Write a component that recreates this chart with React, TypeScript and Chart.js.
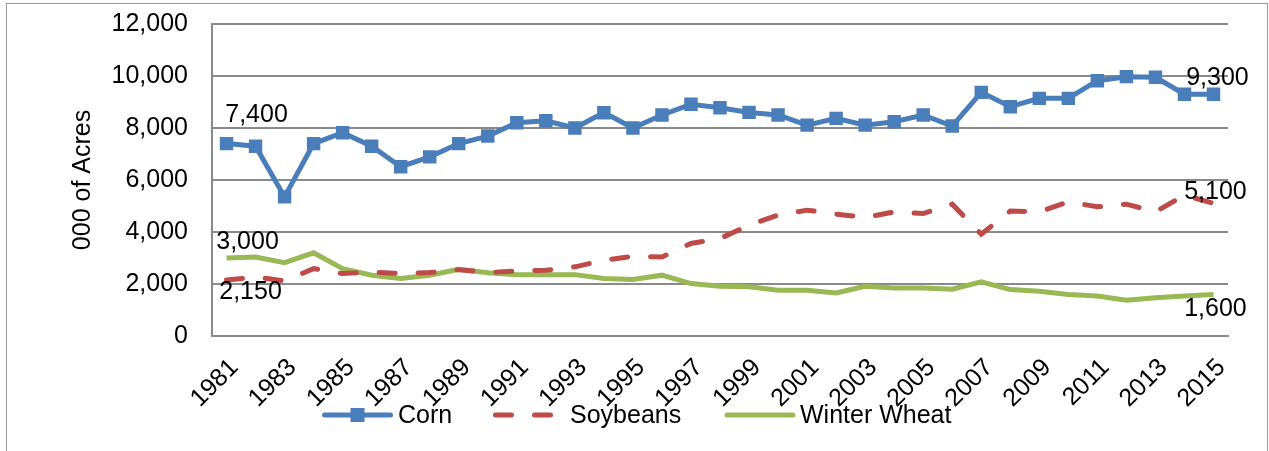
import React, { useEffect, useRef } from "react";
import { Chart, registerables } from "chart.js";

Chart.register(...registerables);

const years: string[] = [
  "1981", "1982", "1983", "1984", "1985", "1986", "1987", "1988", "1989", "1990",
  "1991", "1992", "1993", "1994", "1995", "1996", "1997", "1998", "1999", "2000",
  "2001", "2002", "2003", "2004", "2005", "2006", "2007", "2008", "2009", "2010",
  "2011", "2012", "2013", "2014", "2015",
];

const corn: number[] = [
  7400, 7300, 5350, 7400, 7820, 7300, 6510, 6890, 7400, 7690,
  8200, 8280, 8000, 8590, 8000, 8500, 8910, 8780, 8600, 8500,
  8110, 8370, 8110, 8240, 8500, 8075, 9370, 8820, 9140, 9140,
  9820, 9975, 9950, 9300, 9300,
];

const soybeans: number[] = [
  2150, 2270, 2120, 2590, 2400, 2460, 2400, 2440, 2550, 2440,
  2500, 2530, 2660, 2910, 3070, 3040, 3560, 3750, 4260, 4650,
  4840, 4690, 4560, 4775, 4710, 5070, 3915, 4810, 4775, 5160,
  4970, 5070, 4775, 5420, 5100,
];

const winterWheat: number[] = [
  3000, 3040, 2820, 3200, 2590, 2340, 2210, 2340, 2570, 2430,
  2360, 2360, 2360, 2210, 2170, 2340, 2015, 1910, 1890, 1760,
  1760, 1655, 1910, 1850, 1850, 1800, 2080, 1785, 1720, 1600,
  1540, 1375, 1475, 1540, 1600,
];

const yTicks: number[] = [0, 2000, 4000, 6000, 8000, 10000, 12000];

const seriesNames: string[] = ["Corn", "Soybeans", "Winter Wheat"];

const COLORS = ["#4A7EBB", "#BE4B48", "#98B954"];
const FONT = "'Liberation Sans', Arial, sans-serif";
const FS = 25;
const XFS = 25;

// data labels: [datasetIndex, pointIndex, dx, dy]
const dataLabels: [number, number, number, number][] = [
  [0, 0, 30, -28],
  [2, 0, 21, -16],
  [1, 0, 24, 12],
  [0, 34, 4, -16],
  [1, 34, 2, -11],
  [2, 34, 2, 15],
];

const fmt = (v: number) => v.toLocaleString("en-US");

const labelPlugin = {
  id: "dataLabelsCustom",
  afterDatasetsDraw(chart: any) {
    const ctx = chart.ctx;
    ctx.save();
    ctx.font = `${FS}px ${FONT}`;
    ctx.fillStyle = "#000";
    ctx.textAlign = "center";
    ctx.textBaseline = "middle";
    for (const [di, pi, dx, dy] of dataLabels) {
      const el = chart.getDatasetMeta(di).data[pi];
      const v = chart.data.datasets[di].data[pi] as number;
      ctx.fillText(fmt(v), el.x + dx, el.y + dy);
    }
    ctx.restore();
  },
};

// legend layout: [lineStart, lineEnd, textX]
const legendLayout: [number, number, number][] = [
  [324.5, 390.5, 398],
  [495.5, 555.5, 570],
  [727, 793, 800],
];

const legendPlugin = {
  id: "legendCustom",
  afterDraw(chart: any) {
    const ctx = chart.ctx;
    const y = 415;
    ctx.save();
    chart.data.datasets.forEach((ds: any, i: number) => {
      const [x0, x1, tx] = legendLayout[i];
      ctx.strokeStyle = ds.borderColor;
      ctx.lineWidth = ds.borderWidth;
      ctx.lineCap = "round";
      ctx.setLineDash(ds.borderDash || []);
      ctx.beginPath();
      ctx.moveTo(x0, y);
      ctx.lineTo(x1, y);
      ctx.stroke();
      ctx.setLineDash([]);
      if (ds.pointRadius > 0) {
        const s = 14;
        ctx.fillStyle = ds.borderColor;
        ctx.fillRect((x0 + x1) / 2 - s / 2, y - s / 2, s, s);
      }
      ctx.fillStyle = "#000";
      ctx.font = `${FS}px ${FONT}`;
      ctx.textAlign = "left";
      ctx.textBaseline = "middle";
      ctx.fillText(ds.label, tx, y + 1);
    });
    ctx.restore();
  },
};

export default function App() {
  const ref = useRef<HTMLCanvasElement | null>(null);

  useEffect(() => {
    if (!ref.current) return;
    Chart.defaults.font.family = FONT;
    const chart = new Chart(ref.current, {
      type: "line",
      data: {
        labels: years,
        datasets: [
          {
            label: seriesNames[0],
            data: corn,
            borderColor: COLORS[0],
            backgroundColor: COLORS[0],
            borderWidth: 5,
            pointStyle: "rect",
            pointRadius: 9.5,
            pointBorderWidth: 0,
            pointBackgroundColor: COLORS[0],
            pointBorderColor: COLORS[0],
            tension: 0,
          } as any,
          {
            label: seriesNames[1],
            data: soybeans,
            borderColor: COLORS[1],
            backgroundColor: COLORS[1],
            borderWidth: 5,
            borderDash: [16, 23],
            borderCapStyle: "round",
            pointRadius: 0,
            tension: 0,
          } as any,
          {
            label: seriesNames[2],
            data: winterWheat,
            borderColor: COLORS[2],
            backgroundColor: COLORS[2],
            borderWidth: 5,
            pointRadius: 0,
            tension: 0,
          } as any,
        ],
      },
      options: {
        animation: false,
        responsive: false,
        devicePixelRatio: 1,
        layout: { padding: { left: 0, top: 24, right: 41, bottom: 0 } },
        plugins: {
          legend: { display: false },
          tooltip: { enabled: false },
        },
        scales: {
          x: {
            offset: true,
            grid: { display: false, drawTicks: false },
            border: { display: true, color: "#8a8a8a", width: 2 },
            ticks: {
              autoSkip: false,
              maxRotation: 45,
              minRotation: 45,
              padding: 17,
              labelOffset: 8,
              color: "#000",
              font: { size: XFS, family: FONT },
              callback: (_v: any, i: number) => (i % 2 === 0 ? years[i] : ""),
            },
            afterFit: (s: any) => {
              s.height = 115;
            },
          },
          y: {
            min: 0,
            max: 12000,
            afterBuildTicks: (s: any) => {
              s.ticks = yTicks.map((v) => ({ value: v }));
            },
            grid: {
              color: "#8a8a8a",
              lineWidth: 2,
              drawTicks: true,
              tickLength: 22,
              tickColor: "rgba(0,0,0,0)",
            },
            border: { display: true, color: "#8a8a8a", width: 2 },
            ticks: {
              padding: 2,
              color: "#000",
              font: { size: FS, family: FONT },
              callback: (v: any) => fmt(Number(v)),
            },
            title: {
              display: true,
              text: "000 of Acres",
              color: "#000",
              font: { size: FS, family: FONT },
              padding: { top: 68, bottom: 0 },
            },
            afterFit: (s: any) => {
              s.width = 212;
            },
          },
        },
      },
      plugins: [labelPlugin, legendPlugin],
    });
    return () => chart.destroy();
  }, []);

  return (
    <div style={{ position: "fixed", left: 0, top: 0, width: 1269, height: 451, overflow: "hidden", background: "#fff" }}>
      <div
        style={{
          position: "absolute",
          left: 6,
          top: 3,
          width: 1262,
          height: 460,
          boxSizing: "border-box",
          border: "1.5px solid #9a9a9a",
        }}
      />
      <canvas ref={ref} width={1269} height={451} style={{ position: "absolute", left: 0, top: 0 }} />
    </div>
  );
}
